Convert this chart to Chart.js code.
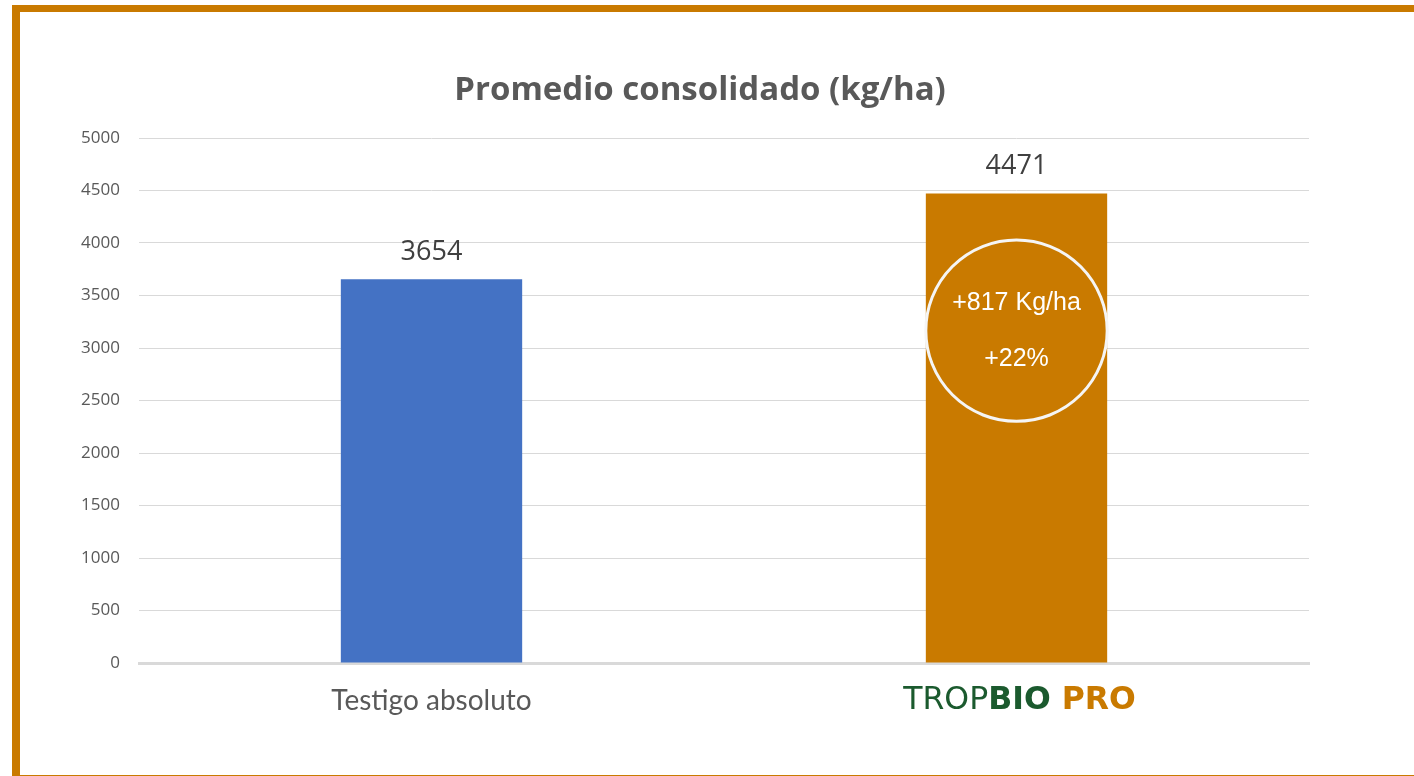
<!DOCTYPE html>
<html>
<head>
<meta charset="utf-8">
<script src="https://cdn.jsdelivr.net/npm/chart.js@4.4.1/dist/chart.umd.min.js"></script>
<style>
  html, body { margin: 0; padding: 0; background: #fff; overflow: hidden; }
  #frame {
    position: absolute; left: 12px; top: 5px; width: 1420px; height: 763px;
    border-left: 8px solid #c97a00; border-top: 7px solid #c97a00;
    border-bottom: 1px solid #c97a00; box-sizing: content-box;
  }
  #wrap { position: absolute; left: 0; top: 0; width: 1414px; height: 776px; }
</style>
</head>
<body>
<div id="frame"></div>
<div id="wrap"><canvas id="chart"></canvas></div>
<script>
// datos
const titleText = "Promedio consolidado (kg/ha)";
const categories = ["Testigo absoluto", "TROPBIO PRO"];
const values = [3654, 4471];
const barColors = ["#4472c4", "#c97a00"];
const yTicks = [0, 500, 1000, 1500, 2000, 2500, 3000, 3500, 4000, 4500, 5000];

const gain = values[1] - values[0];
const gainPct = Math.round((gain / values[0]) * 100);

// título, etiquetas de valor, círculo y etiquetas del eje x
const extras = {
  id: "extras",
  afterDraw(chart) {
    const ctx = chart.ctx;
    const x = chart.scales.x;
    const y = chart.scales.y;
    ctx.save();

    // título
    ctx.fillStyle = "#595959";
    ctx.font = "bold 33px 'Open Sans', sans-serif";
    ctx.textAlign = "center";
    ctx.textBaseline = "middle";
    ctx.fillText(titleText, 700, 91);

    // valores sobre las barras
    ctx.fillStyle = "#404040";
    ctx.font = "27px 'Open Sans', sans-serif";
    values.forEach((v, i) => {
      ctx.fillText(String(v), x.getPixelForValue(i), y.getPixelForValue(v) - 27);
    });

    // círculo con la diferencia
    const cx = x.getPixelForValue(1);
    const cy = y.getPixelForValue(3165);
    const bar = chart.getDatasetMeta(0).data[1];
    const r = bar.width / 2;
    ctx.strokeStyle = "#f5f5f5";
    ctx.lineWidth = 3;
    ctx.beginPath();
    ctx.arc(cx, cy, r, 0, Math.PI * 2);
    ctx.stroke();
    ctx.fillStyle = "#ffffff";
    ctx.font = "25px 'Liberation Sans', Arial, sans-serif";
    ctx.fillText("+" + gain + " Kg/ha", cx, cy - 28);
    ctx.fillText("+" + gainPct + "%", cx, cy + 28);

    // eje x
    const ly = 701;
    ctx.fillStyle = "#595959";
    ctx.font = "28px Lato, 'Open Sans', sans-serif";
    ctx.fillText(categories[0], x.getPixelForValue(0), ly);

    // logotipo TROPBIO PRO
    const parts = [
      { t: "TROP", f: "31.5px 'DejaVu Sans', sans-serif", c: "#1b5a2e" },
      { t: "BIO ", f: "bold 31.5px 'DejaVu Sans', sans-serif", c: "#1b5a2e" },
      { t: "PRO", f: "bold 31.5px 'DejaVu Sans', sans-serif", c: "#c97a00" }
    ];
    let total = 0;
    parts.forEach(p => { ctx.font = p.f; p.w = ctx.measureText(p.t).width; total += p.w; });
    let px = x.getPixelForValue(1) + 3 - total / 2;
    ctx.textAlign = "left";
    parts.forEach(p => {
      ctx.font = p.f; ctx.fillStyle = p.c;
      ctx.fillText(p.t, px, ly);
      px += p.w;
    });
    ctx.restore();
  }
};

new Chart(document.getElementById("chart"), {
  type: "bar",
  data: {
    labels: categories,
    datasets: [{
      data: values,
      backgroundColor: barColors,
      borderWidth: 0,
      categoryPercentage: 1,
      barPercentage: 0.31
    }]
  },
  options: {
    responsive: true,
    maintainAspectRatio: false,
    animation: false,
    layout: { padding: { left: 0, right: 105, top: 138, bottom: 0 } },
    plugins: { legend: { display: false }, tooltip: { enabled: false }, title: { display: false } },
    scales: {
      x: {
        grid: { display: false },
        border: { color: "#d9d9d9", width: 3 },
        ticks: { display: false },
        afterFit(s) { s.height = 776 - 138 - 523 - 2; }
      },
      y: {
        min: 0,
        max: 5000,
        afterBuildTicks(s) { s.ticks = yTicks.map(v => ({ value: v })); },
        grid: { color: "#d9d9d9", lineWidth: 1, drawTicks: false },
        border: { display: false },
        ticks: {
          color: "#595959",
          font: { size: 17, family: "'Open Sans', sans-serif" },
          padding: 19,
          callback: v => String(v)
        },
        afterFit(s) { s.width = 139; }
      }
    }
  },
  plugins: [extras]
});
</script>
</body>
</html>
